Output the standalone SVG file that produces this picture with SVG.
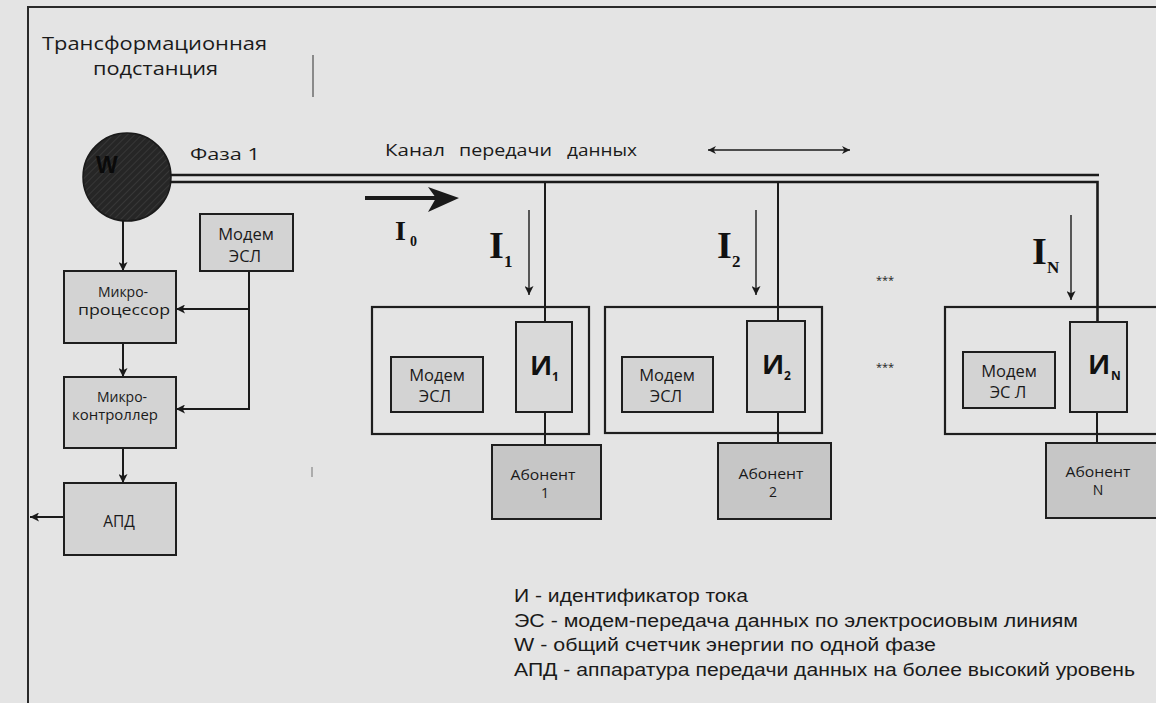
<svg xmlns="http://www.w3.org/2000/svg" width="1156" height="703" viewBox="0 0 1156 703">
<defs>
<style>
.bg{fill:#e4e4e4}
.frame{fill:none;stroke:#2a2a2a;stroke-width:2}
.box{fill:#d3d3d3;stroke:#1e1e1e;stroke-width:2}
.ab{fill:#c6c6c6;stroke:#1e1e1e;stroke-width:2}
.id{fill:#d9d9d9;stroke:#1e1e1e;stroke-width:2}
.cont{fill:none;stroke:#1e1e1e;stroke-width:2.2}
.ln{fill:none;stroke:#1a1a1a;stroke-width:2}
.pw{fill:none;stroke:#1a1a1a;stroke-width:2.6}
.thin{fill:none;stroke:#1a1a1a;stroke-width:1.4}
.t{font-family:"Open Sans","Noto Sans",sans-serif;fill:#1a1a1a}
.s{font-family:"Liberation Sans",Arial,sans-serif;fill:#1a1a1a}
.serif{font-family:"Liberation Serif","Times New Roman",serif;fill:#111;font-weight:bold}
.bid{font-family:"Open Sans","Noto Sans",sans-serif;font-weight:bold;fill:#111}
</style>
<marker id="ah" viewBox="0 0 10 10" refX="10" refY="5" markerWidth="10" markerHeight="9" markerUnits="userSpaceOnUse" orient="auto-start-reverse">
<path d="M0,0 L10,5 L0,10 L2.5,5 z" fill="#1a1a1a"/>
</marker>
<marker id="ah2" viewBox="0 0 10 10" refX="10" refY="5" markerWidth="12" markerHeight="8" markerUnits="userSpaceOnUse" orient="auto-start-reverse">
<path d="M0,0 L10,5 L0,10 L3,5 z" fill="#1a1a1a"/>
</marker>
<pattern id="hatch" width="5" height="5" patternUnits="userSpaceOnUse" patternTransform="rotate(45)">
<rect width="5" height="5" fill="#262626"/>
<line x1="0" y1="0" x2="0" y2="5" stroke="#3c3c3c" stroke-width="1.5"/>
</pattern>
</defs>

<rect class="bg" x="0" y="0" width="1156" height="703"/>
<rect class="frame" x="28" y="7" width="1140" height="710"/>

<!-- scan marks -->
<line x1="313" y1="55" x2="313" y2="97" stroke="#8a8a8a" stroke-width="2"/>
<line x1="312" y1="467" x2="312" y2="477" stroke="#9a9a9a" stroke-width="1.5"/>

<g id="title">
<text class="t" x="42" y="50" font-size="19" textLength="225" lengthAdjust="spacingAndGlyphs">Трансформационная</text>
<text class="t" x="93" y="75" font-size="19" textLength="125" lengthAdjust="spacingAndGlyphs">подстанция</text>
</g>

<g id="connectors">
<!-- power line -->
<path class="pw" d="M170,175 H1099"/>
<path class="pw" d="M170,182 H1097.5 V322"/>
<path class="ln" d="M545,182 V322"/>
<path class="ln" d="M778,182 V321"/>
<path class="ln" d="M545,412 V445"/>
<path class="ln" d="M778,412 V443"/>
<path class="ln" d="M1097,412 V443"/>
<!-- left column -->
<path class="ln" d="M123,221 V271" marker-end="url(#ah)"/>
<path class="ln" d="M123,343 V377" marker-end="url(#ah)"/>
<path class="ln" d="M123,448 V483" marker-end="url(#ah)"/>
<path class="ln" d="M249,271 V409 H176" marker-end="url(#ah)"/>
<path class="ln" d="M249,309 H176" marker-end="url(#ah)"/>
<path class="ln" d="M64,517 H30" marker-end="url(#ah)"/>
<!-- data channel arrow -->
<path class="thin" d="M708,150 H850" marker-start="url(#ah2)" marker-end="url(#ah2)"/>
<!-- current arrows -->
<path d="M365,198 H440" stroke="#1a1a1a" stroke-width="4" fill="none"/>
<path d="M428,187 L459,198 L428,212 L436,198 z" fill="#1a1a1a"/>
<path class="thin" d="M529,210 V295" marker-end="url(#ah)"/>
<path class="thin" d="M756,210 V295" marker-end="url(#ah)"/>
<path class="thin" d="M1071,215 V300" marker-end="url(#ah)"/>
</g>

<g id="meter">
<circle cx="127" cy="177" r="44" fill="url(#hatch)" stroke="#1a1a1a" stroke-width="1.5"/>
<text x="96" y="173" font-family="Liberation Sans,Arial,sans-serif" font-weight="bold" font-size="23" fill="#0a0a0a">W</text>
</g>

<g id="labels">
<text class="t" x="190" y="160" font-size="17" textLength="70" lengthAdjust="spacingAndGlyphs">Фаза 1</text>
<text class="t" x="385" y="156" font-size="17" textLength="60" lengthAdjust="spacingAndGlyphs">Канал</text>
<text class="t" x="459" y="156" font-size="17" textLength="93" lengthAdjust="spacingAndGlyphs">передачи</text>
<text class="t" x="567" y="156" font-size="17" textLength="70" lengthAdjust="spacingAndGlyphs">данных</text>
<text class="serif" x="395" y="240" font-size="28">I</text>
<text class="serif" x="410" y="246" font-size="14" font-weight="normal">0</text>
<text class="serif" x="489" y="258" font-size="38">I</text>
<text class="serif" x="504" y="267" font-size="17">1</text>
<text class="serif" x="717" y="258" font-size="38">I</text>
<text class="serif" x="732" y="267" font-size="17">2</text>
<text class="serif" x="1032" y="264" font-size="38">I</text>
<text class="serif" x="1047" y="273" font-size="17">N</text>
<text class="t" x="885" y="284" font-size="11" text-anchor="middle">***</text>
<text class="t" x="885" y="371" font-size="11" text-anchor="middle">***</text>
</g>

<g id="modem-left">
<rect class="box" x="200" y="214" width="93" height="57"/>
<text class="t" x="246" y="240" font-size="16.5" text-anchor="middle">Модем</text>
<text class="t" x="245" y="262" font-size="16.5" text-anchor="middle">ЭСЛ</text>
</g>

<g id="microprocessor">
<rect class="box" x="64" y="271" width="112" height="72"/>
<text class="t" x="123" y="297" font-size="14" text-anchor="middle">Микро-</text>
<text class="t" x="124" y="315" font-size="14" text-anchor="middle" textLength="92" lengthAdjust="spacingAndGlyphs">процессор</text>
</g>

<g id="microcontroller">
<rect class="box" x="64" y="377" width="112" height="71"/>
<text class="t" x="122" y="402" font-size="14" text-anchor="middle">Микро-</text>
<text class="t" x="115" y="420" font-size="14" text-anchor="middle" textLength="86" lengthAdjust="spacingAndGlyphs">контроллер</text>
</g>

<g id="apd">
<rect class="box" x="64" y="483" width="112" height="72"/>
<text class="t" x="119" y="527" font-size="15.5" text-anchor="middle">АПД</text>
</g>

<g id="subscriber-1">
<rect class="cont" x="372" y="307" width="217" height="127"/>
<rect class="box" x="391" y="357" width="92" height="55"/>
<text class="t" x="437" y="381" font-size="16.5" text-anchor="middle">Модем</text>
<text class="t" x="435" y="402" font-size="16.5" text-anchor="middle">ЭСЛ</text>
<rect class="id" x="516" y="322" width="56" height="90"/>
<text class="bid" x="530" y="375" font-size="27">И</text>
<text class="bid" x="552" y="381" font-size="12">1</text>
<rect class="ab" x="492" y="445" width="109" height="74"/>
<text class="t" x="543" y="480" font-size="14" text-anchor="middle" textLength="65" lengthAdjust="spacingAndGlyphs">Абонент</text>
<text class="t" x="545" y="498" font-size="14" text-anchor="middle">1</text>
</g>

<g id="subscriber-2">
<rect class="cont" x="605" y="307" width="217" height="126"/>
<rect class="box" x="622" y="357" width="91" height="55"/>
<text class="t" x="667" y="381" font-size="16.5" text-anchor="middle">Модем</text>
<text class="t" x="666" y="402" font-size="16.5" text-anchor="middle">ЭСЛ</text>
<rect class="id" x="747" y="321" width="58" height="91"/>
<text class="bid" x="762" y="374" font-size="27">И</text>
<text class="bid" x="784" y="380" font-size="12">2</text>
<rect class="ab" x="718" y="443" width="113" height="76"/>
<text class="t" x="771" y="479" font-size="14" text-anchor="middle" textLength="65" lengthAdjust="spacingAndGlyphs">Абонент</text>
<text class="t" x="773" y="497" font-size="14" text-anchor="middle">2</text>
</g>

<g id="subscriber-n">
<rect class="cont" x="945" y="307" width="230" height="127"/>
<rect class="box" x="963" y="352" width="92" height="56"/>
<text class="t" x="1009" y="377" font-size="16.5" text-anchor="middle">Модем</text>
<text class="t" x="1008" y="398" font-size="16.5" text-anchor="middle" xml:space="preserve">ЭС Л</text>
<rect class="id" x="1070" y="322" width="57" height="90"/>
<text class="bid" x="1088" y="374" font-size="27">И</text>
<text class="bid" x="1111" y="380" font-size="12">N</text>
<rect class="ab" x="1046" y="443" width="120" height="75"/>
<text class="t" x="1098" y="477" font-size="14" text-anchor="middle" textLength="65" lengthAdjust="spacingAndGlyphs">Абонент</text>
<text class="t" x="1098" y="495" font-size="14" text-anchor="middle">N</text>
</g>

<g id="legend">
<text class="s" x="514" y="602" font-size="17.5" textLength="234" lengthAdjust="spacingAndGlyphs">И - идентификатор тока</text>
<text class="s" x="514" y="627" font-size="17.5" textLength="564" lengthAdjust="spacingAndGlyphs">ЭС - модем-передача данных по электросиовым линиям</text>
<text class="s" x="514" y="651" font-size="17.5" textLength="422" lengthAdjust="spacingAndGlyphs">W - общий счетчик энергии по одной фазе</text>
<text class="s" x="514" y="676" font-size="17.5" textLength="621" lengthAdjust="spacingAndGlyphs">АПД - аппаратура передачи данных на более высокий уровень</text>
</g>
</svg>
